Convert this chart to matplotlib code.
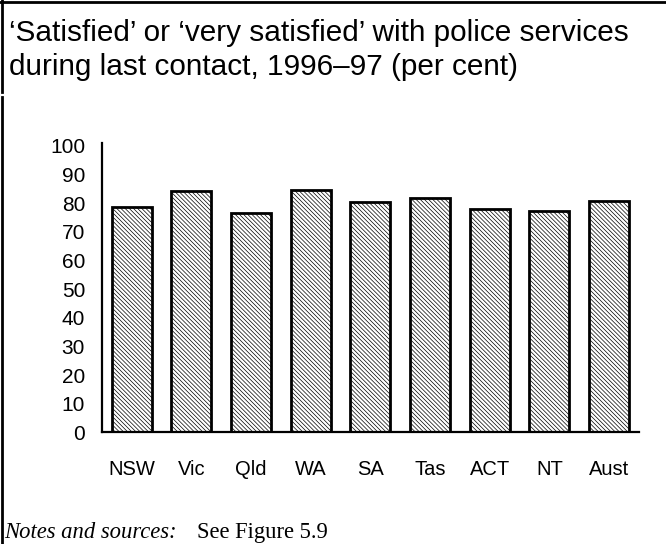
import matplotlib
matplotlib.use("Agg")
import matplotlib.pyplot as plt
from matplotlib.lines import Line2D

# satisfaction with police, per cent
states = ["NSW", "Vic", "Qld", "WA", "SA", "Tas", "ACT", "NT", "Aust"]
satisfied = [78.8, 84.3, 76.7, 84.5, 80.3, 81.8, 77.9, 77.3, 80.7]
yticks = [0, 10, 20, 30, 40, 50, 60, 70, 80, 90, 100]

plt.rcParams["font.family"] = ["Liberation Sans", "DejaVu Sans"]
plt.rcParams["hatch.color"] = "#707070"
plt.rcParams["hatch.linewidth"] = 0.5

fig = plt.figure(figsize=(6.66, 5.44), dpi=100)
ax = fig.add_axes([0.1527, 0.2050, 0.8068, 0.5321])

ax.bar(range(len(states)), satisfied, width=0.67, color="white",
       edgecolor="black", linewidth=2.0, hatch="\\\\\\\\\\\\\\\\")

ax.set_xlim(-0.5, len(states) - 0.5)
ax.set_ylim(0, 101)
ax.set_yticks(yticks)
ax.set_xticks(range(len(states)))
ax.set_xticklabels(states)
ax.tick_params(axis="both", length=0, labelsize=15)
ax.tick_params(axis="y", pad=12)
ax.tick_params(axis="x", pad=20, labelsize=14.5)
for s in ["top", "right"]:
    ax.spines[s].set_visible(False)
for s in ["left", "bottom"]:
    ax.spines[s].set_linewidth(1.6)

# title
fig.text(9 / 666, 1 - 19 / 544,
         "\u2018Satisfied\u2019 or \u2018very satisfied\u2019 with police services\n"
         "during last contact, 1996\u201397 (per cent)",
         ha="left", va="top", fontsize=21.4, linespacing=1.27)

# notes line
fig.text(4 / 666, 1 - 538 / 544, "Notes and sources:", ha="left", va="baseline",
         fontsize=16.3, family="Liberation Serif", style="italic")
fig.text(197 / 666, 1 - 538 / 544, "See Figure 5.9", ha="left", va="baseline",
         fontsize=16.3, family="Liberation Serif")

# frame lines at top and left
fig.add_artist(Line2D([0, 1], [1 - 1.5 / 544, 1 - 1.5 / 544], color="black", lw=2))
fig.add_artist(Line2D([1.5 / 666, 1.5 / 666], [1 - 92 / 544, 1], color="black", lw=2))
fig.add_artist(Line2D([1.5 / 666, 1.5 / 666], [0, 1 - 97 / 544], color="black", lw=2))

fig.savefig("out.png", dpi=100)
